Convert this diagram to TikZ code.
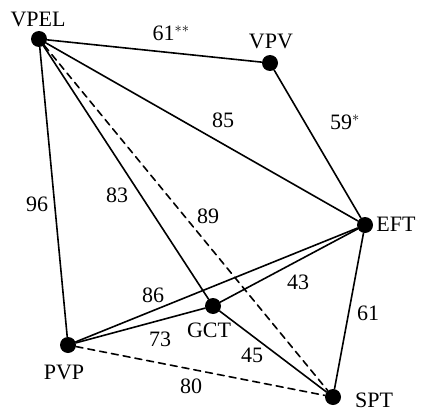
\documentclass[tikz,border=0pt]{standalone}
\usepackage{fontspec}
\setmainfont{Liberation Serif}
\usetikzlibrary{calc}

\begin{document}
\begin{tikzpicture}[
  x=1pt, y=-1pt,
  line cap=round, line join=round,
  vertex/.style={circle, fill=black, inner sep=0pt, minimum size=16pt},
  link/.style={line width=1.6pt},
  weak/.style={line width=1.6pt, dash pattern=on 7pt off 5pt},
  lbl/.style={font=\fontsize{22}{22}\selectfont, inner sep=0pt}
]

% Bounding box
\useasboundingbox (0,0) rectangle (423,412);

% === Vertices ===
\node[vertex] (vpel) at (39,39) {};
\node[vertex] (vpv)  at (270,63) {};
\node[vertex] (eft)  at (365,225) {};
\node[vertex] (gct)  at (213,306) {};
\node[vertex] (pvp)  at (68,345) {};
\node[vertex] (spt)  at (333,397) {};

% Vertex names
\node[lbl] (tvpel) at (38,19) {VPEL};
\node[lbl] (tvpv)  at (271,41) {VPV};
\node[lbl] (teft)  at (396,224) {EFT};
\node[lbl] (tgct)  at (209,330) {GCT};
\node[lbl] (tpvp)  at (64,372) {PVP};
\node[lbl] (tspt)  at (374,400) {SPT};

% === Connectors ===
\draw[link] (vpel) -- (vpv);
\draw[link] (vpv) -- (eft);
\draw[link] (vpel) -- (eft);
\draw[link] (vpel) -- (gct);
\draw[link] (vpel) -- (pvp);
\draw[weak] (vpel) -- (spt);
\draw[link] (eft) -- (spt);
\draw[link] (eft) -- (pvp);
\draw[link] (eft) -- (gct);
\draw[link] (pvp) -- (gct);
\draw[link] (gct) -- (spt);
\draw[weak] (pvp) -- (spt);

% Weights
\node[lbl] (w1)  at (171,33) {61$^{**}$};
\node[lbl] (w2)  at (345,122) {59$^{*}$};
\node[lbl] (w3)  at (223,120) {85};
\node[lbl] (w4)  at (37,204) {96};
\node[lbl] (w5)  at (117,195) {83};
\node[lbl] (w6)  at (208,216) {89};
\node[lbl] (w7)  at (153,295) {86};
\node[lbl] (w8)  at (298,282) {43};
\node[lbl] (w9)  at (368,313) {61};
\node[lbl] (w10) at (160,339) {73};
\node[lbl] (w11) at (252,355) {45};
\node[lbl] (w12) at (191,386) {80};

\end{tikzpicture}
\end{document}
